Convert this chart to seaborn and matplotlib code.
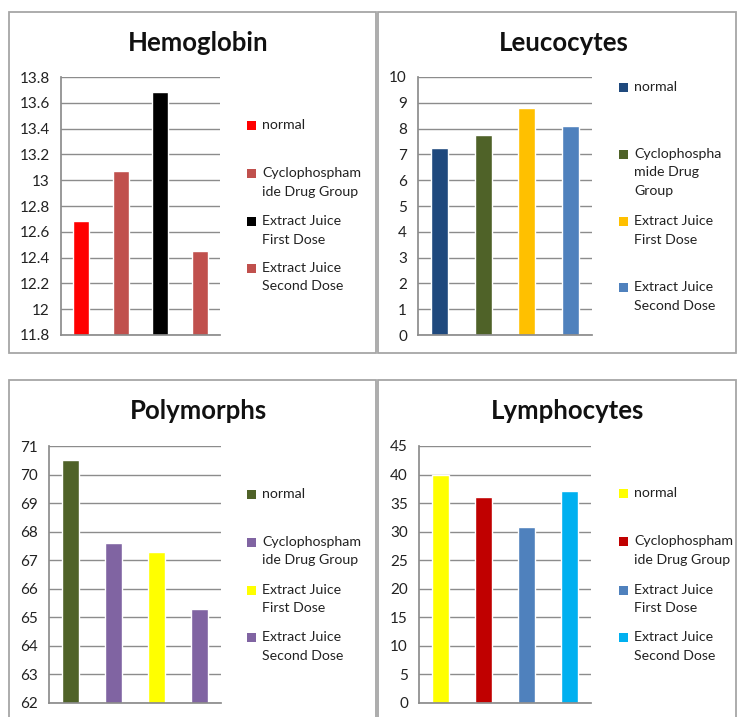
import matplotlib
matplotlib.use("Agg")
import matplotlib.pyplot as plt
import seaborn as sns
import pandas as pd
from matplotlib.patches import Rectangle

# data
groups = ["normal", "Cyclophosphamide Drug Group", "Extract Juice First Dose", "Extract Juice Second Dose"]

hemoglobin = [12.68, 13.07, 13.68, 12.45]
leucocytes = [7.25, 7.75, 8.8, 8.1]
polymorphs = [70.5, 67.6, 67.3, 65.3]
lymphocytes = [40.0, 36.0, 30.8, 37.2]

hemo_colors = ["#FF0000", "#C0504D", "#000000", "#C0504D"]
leuco_colors = ["#1F497D", "#4F6228", "#FFC000", "#4F81BD"]
poly_colors = ["#4F6228", "#8064A2", "#FFFF00", "#8064A2"]
lympho_colors = ["#FFFF00", "#C00000", "#4F81BD", "#00B0F0"]

hemo_labels = ["normal", "Cyclophospham\nide Drug Group", "Extract Juice\nFirst Dose", "Extract Juice\nSecond Dose"]
leuco_labels = ["normal", "Cyclophospha\nmide Drug\nGroup", "Extract Juice\nFirst Dose", "Extract Juice\nSecond Dose"]

W, H = 743, 717
sns.set_theme(style="white")
plt.rcParams['font.family'] = ['Lato', 'DejaVu Sans']

fig = plt.figure(figsize=(W / 100, H / 100), dpi=100)


def fx(px):
    return px / W


def fy(py):
    return 1 - py / H


panels = [
    dict(title="Hemoglobin", vals=hemoglobin, colors=hemo_colors, labels=hemo_labels,
         ylim=(11.8, 13.8), step=0.2, box=(61, 77, 220, 335), tpos=(198, 43),
         lx=247, ly=[125, 173, 221, 268]),
    dict(title="Leucocytes", vals=leucocytes, colors=leuco_colors, labels=leuco_labels,
         ylim=(0, 10), step=1, box=(418, 77, 592, 335), tpos=(564, 43),
         lx=619, ly=[87, 154, 221, 287]),
    dict(title="Polymorphs", vals=polymorphs, colors=poly_colors, labels=hemo_labels,
         ylim=(62, 71), step=1, box=(49, 446, 221, 703), tpos=(198, 411),
         lx=247, ly=[494, 542, 590, 637]),
    dict(title="Lymphocytes", vals=lymphocytes, colors=lympho_colors, labels=hemo_labels,
         ylim=(0, 45), step=5, box=(419, 446, 591, 703), tpos=(568, 411),
         lx=619, ly=[493, 541, 590, 637]),
]

# chart frames
frames = [(9, 12, 376, 353), (378, 12, 736, 353), (9, 380, 376, 730), (378, 380, 736, 730)]
for l, t, r, b in frames:
    fig.add_artist(Rectangle((fx(l), fy(b)), fx(r - l), (b - t) / H, transform=fig.transFigure,
                             fill=False, edgecolor="#A6A6A6", linewidth=1.3))

for p in panels:
    l, t, r, b = p["box"]
    ax = fig.add_axes([fx(l), fy(b), fx(r - l), (b - t) / H])
    df = pd.DataFrame({"group": groups, "value": p["vals"]})
    sns.barplot(data=df, x="group", y="value", hue="group", palette=p["colors"],
                width=0.4, legend=False, ax=ax, saturation=1)
    lo, hi = p["ylim"]
    ax.set_ylim(lo, hi)
    ax.set_xlim(-0.5, 3.5)
    ticks = [lo + i * p["step"] for i in range(int(round((hi - lo) / p["step"])) + 1)]
    ax.set_yticks(ticks)
    ax.set_yticklabels(["{:g}".format(round(v, 1)) for v in ticks], fontsize=11, color="#222222")
    ax.set_xticks([])
    ax.set_xlabel("")
    ax.set_ylabel("")
    ax.yaxis.grid(True, color="#8C8C8C", linewidth=1)
    ax.set_axisbelow(True)
    for side in ["top", "right"]:
        ax.spines[side].set_visible(False)
    ax.spines["left"].set_color("#8C8C8C")
    ax.spines["bottom"].set_color("#8C8C8C")
    ax.tick_params(axis="y", length=0, pad=8)

    fig.text(fx(p["tpos"][0]), fy(p["tpos"][1]), p["title"], ha="center", va="center",
             fontsize=18.5, fontweight="bold", color="#111111")

    # legend entries, square level with the first text line
    for lab, c, y in zip(p["labels"], p["colors"], p["ly"]):
        fig.add_artist(Rectangle((fx(p["lx"]), fy(y + 4.5)), fx(9), 9 / H, transform=fig.transFigure,
                                 facecolor=c, edgecolor="none"))
        fig.text(fx(p["lx"] + 15), fy(y - 6), lab, ha="left", va="top", fontsize=10.2,
                 color="#222222", linespacing=1.65)

fig.savefig("out.png", dpi=100, facecolor="white")
